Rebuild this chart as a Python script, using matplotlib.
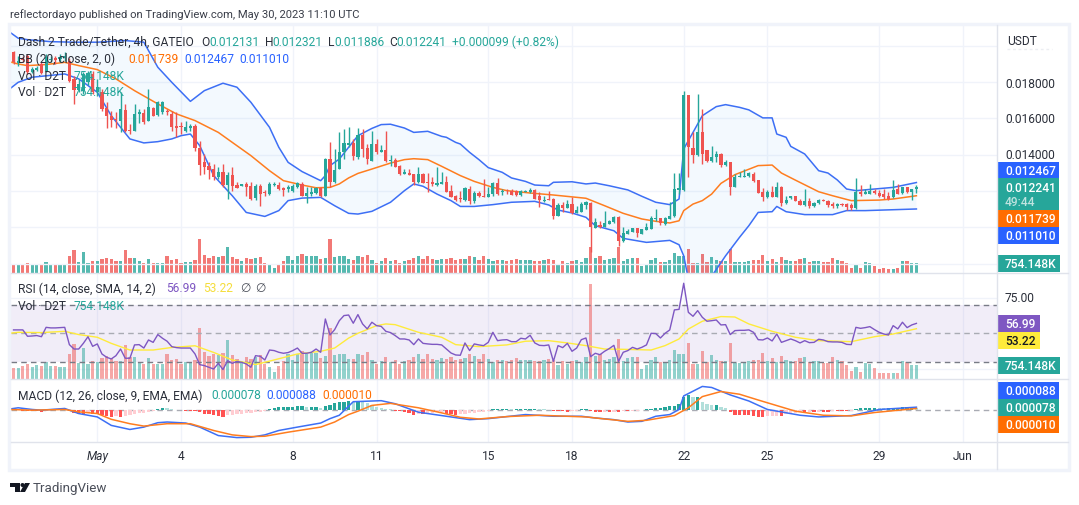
import numpy as np
import matplotlib
matplotlib.use("Agg")
import matplotlib.pyplot as plt
from matplotlib.patches import Rectangle, Polygon, Circle

plt.rcParams['font.family'] = ['Roboto', 'DejaVu Sans']

# ---- values are in thousandths of USDT for prices, thousands for volume
bar_index = np.arange(-18, 177)

opens = [19.65,19.07,19.32,19.46,18.58,18.67,19.00,18.63,19.22,19.32,19.28,19.32,19.19,18.18,17.59,17.53,17.99,18.45,
17.48,17.44,16.56,16.15,15.97,15.88,16.48,15.36,15.33,16.25,16.30,15.88,16.56,16.19,16.34,16.43,16.25,15.57,15.60,15.33,15.49,15.60,
14.35,13.58,13.40,13.21,12.79,13.07,12.35,12.88,12.33,12.26,12.39,12.26,11.60,12.26,11.93,11.83,12.35,12.35,12.15,12.11,12.02,12.20,
12.39,11.71,11.83,11.89,12.17,11.74,13.76,12.48,13.21,14.17,14.54,14.65,13.86,15.09,14.37,13.67,14.59,14.17,14.26,13.67,13.71,13.40,
12.94,12.97,12.92,12.48,12.94,12.50,12.51,12.33,12.40,12.51,12.00,11.74,11.60,11.49,12.11,11.45,11.89,11.74,11.69,11.83,12.44,11.96,
11.96,12.02,11.98,11.78,11.96,11.93,12.06,11.71,11.47,11.56,11.56,10.64,11.23,11.06,11.29,10.79,10.86,11.23,11.36,9.96,10.13,10.00,
10.18,10.27,10.58,9.22,9.65,9.76,9.96,9.63,9.87,9.90,10.46,10.51,10.18,10.46,10.60,12.07,12.07,17.29,14.37,14.00,15.23,14.26,13.67,
13.86,14.04,13.43,13.62,12.24,12.75,12.77,12.81,12.94,12.61,11.93,11.65,11.96,11.69,12.24,11.34,11.60,11.71,11.47,11.25,11.43,11.15,
11.32,11.50,11.47,11.28,11.19,11.28,11.27,11.23,11.04,11.96,11.85,11.85,12.02,11.89,11.83,11.74,11.65,12.11,11.87,12.20,11.96,12.131]
highs = [19.74,19.46,19.46,19.55,18.82,18.91,19.09,19.55,19.46,19.46,19.55,19.65,19.32,18.32,18.18,18.58,18.63,18.63,
18.18,17.62,16.89,16.43,16.34,17.44,16.80,15.69,16.80,16.52,16.52,17.62,16.61,16.98,16.98,16.52,16.43,16.34,15.79,15.88,15.69,15.69,
14.78,14.04,13.58,13.49,13.31,13.49,13.03,13.34,12.48,12.39,12.48,12.48,12.39,12.39,12.07,12.48,12.48,12.51,12.20,12.35,12.39,12.51,
12.48,12.20,12.20,12.20,12.20,13.80,14.68,14.32,15.23,15.42,15.55,14.87,15.45,15.42,14.59,15.33,14.87,14.54,15.33,13.99,13.80,13.43,
13.21,13.21,12.94,13.31,12.99,12.99,12.75,13.31,13.03,12.81,12.33,11.78,12.02,12.20,12.29,12.02,12.02,12.66,12.20,12.51,12.70,12.11,
12.11,12.11,12.07,12.07,12.07,12.15,12.11,11.93,11.71,11.98,11.60,11.34,11.38,11.52,11.65,11.19,11.38,11.47,11.41,10.54,10.36,10.88,
10.42,10.60,10.64,10.00,9.90,9.96,9.96,9.90,10.24,10.60,11.01,10.51,10.55,11.38,12.99,12.99,17.49,17.29,15.23,17.35,16.52,14.26,14.46,
14.22,14.08,13.69,13.62,12.94,13.07,13.21,13.03,13.07,12.61,12.15,12.07,12.29,12.48,12.29,11.71,11.74,11.74,11.56,12.11,11.60,11.41,
11.56,11.56,11.50,11.38,11.34,11.32,11.32,11.32,12.72,12.35,12.11,12.39,12.11,12.07,12.11,11.96,12.61,12.39,12.24,12.24,12.11,12.321]
lows = [19.00,18.91,19.09,18.45,18.51,18.63,18.45,18.58,19.09,19.00,19.09,19.19,18.03,16.80,17.44,17.35,17.84,17.35,
17.26,16.43,15.47,15.51,15.46,15.23,15.23,15.14,15.33,15.75,15.69,15.88,16.15,16.15,16.25,16.19,15.33,15.00,15.14,15.23,15.33,14.22,
12.90,12.94,12.66,12.61,12.66,12.20,11.56,12.02,12.17,12.26,11.74,11.52,11.52,11.19,11.74,11.78,12.29,12.07,11.71,11.96,11.93,12.15,
11.71,11.34,11.74,11.83,11.65,11.71,12.20,12.44,13.21,13.76,14.41,13.71,13.76,13.86,13.49,13.67,14.04,14.13,13.62,13.40,13.31,12.90,
12.94,12.88,12.33,12.44,12.44,11.96,12.26,12.26,12.39,11.93,11.65,11.47,11.41,11.45,11.27,11.34,11.65,11.65,11.65,11.74,11.78,11.80,
11.83,11.78,11.74,11.74,11.93,11.89,11.56,11.12,11.38,11.52,10.46,10.60,10.82,11.04,10.73,10.77,10.82,11.01,8.62,9.96,9.94,10.00,
10.16,10.24,8.99,9.17,9.63,9.72,9.48,9.63,9.85,9.90,10.36,10.15,10.15,10.46,10.55,11.83,12.02,12.79,13.54,13.91,13.49,13.62,13.58,
13.58,13.31,13.40,11.80,12.24,12.75,12.75,12.75,12.51,11.89,11.47,11.61,11.65,11.65,11.16,11.29,11.56,11.43,11.23,11.19,11.06,11.14,
11.27,11.43,11.10,11.04,11.06,11.19,10.97,10.93,11.01,11.71,11.83,11.83,11.83,11.65,11.56,11.52,11.61,11.83,11.83,11.89,11.50,11.886]
closes = [19.09,19.15,19.24,18.58,18.73,18.78,18.51,19.37,19.28,19.24,19.37,19.43,18.08,17.59,17.90,18.45,18.51,17.48,
17.72,16.52,16.12,15.93,15.91,16.52,15.33,15.29,16.25,16.34,15.82,16.61,16.15,16.89,16.93,16.34,15.51,15.47,15.53,15.51,15.60,14.35,
13.43,13.31,13.16,12.79,13.07,12.33,12.88,12.29,12.17,12.39,12.24,11.56,12.26,11.83,11.87,12.39,12.39,12.11,12.07,12.20,12.26,12.44,
11.74,11.89,11.96,12.15,11.71,13.76,12.48,13.18,14.17,14.65,14.63,13.91,15.09,14.32,13.76,14.59,14.17,14.26,13.67,13.71,13.34,12.94,
13.07,12.90,12.48,12.94,12.44,12.44,12.37,12.44,12.51,11.96,11.65,11.52,11.56,12.15,11.47,11.89,11.74,11.69,11.83,12.44,11.83,11.96,
11.93,11.80,11.78,12.02,12.02,12.06,11.56,11.52,11.52,11.52,10.60,11.23,11.04,11.29,10.77,10.95,11.29,11.41,10.01,10.27,10.00,10.24,
10.33,10.55,9.26,9.67,9.79,9.96,9.68,9.90,10.00,10.51,10.51,10.22,10.49,10.60,12.11,12.17,17.29,14.43,14.00,15.23,14.04,13.67,13.86,
14.04,13.43,13.62,12.24,12.79,12.85,12.85,12.97,12.57,11.89,11.65,11.96,11.65,12.24,11.34,11.52,11.71,11.47,11.25,11.47,11.15,11.34,
11.50,11.45,11.23,11.15,11.28,11.23,11.10,11.04,11.96,11.83,11.96,12.02,11.87,11.74,11.65,11.56,12.06,11.83,12.24,11.93,12.11,12.241]

volumes_k = [596,596,702,772,631,719,702,877,702,702,649,631,1333,1859,842,1649,807,947,
912,1123,1193,1123,947,947,1807,1158,1158,912,772,1087,807,807,772,1333,982,1070,772,877,877,982,
2701,1421,1193,1333,1245,1368,2035,1245,1070,947,1158,1070,1158,1245,807,631,351,702,947,1333,1017,1333,
1473,1333,1368,1368,1123,1193,2701,1245,1333,1333,1070,1052,1333,1245,1421,1017,772,947,1158,895,1017,772,
947,1017,1158,1298,1070,1298,1070,1017,1105,1070,1158,1017,1070,1123,1333,1228,1052,1333,1070,912,982,1017,
947,1017,1123,982,1017,982,947,947,982,1070,1017,719,930,772,947,982,877,1158,5016,1193,1333,1017,
1070,1158,2087,947,1123,1158,1158,544,719,1017,1158,877,877,1017,1544,1333,1298,1912,772,772,1491,877,1280,
982,947,947,1912,859,824,877,947,1017,1017,1386,930,1123,877,1228,1017,947,947,1123,1175,877,947,947,
859,824,1175,1017,947,754,403,649,368,842,807,561,298,333,298,316,333,947,912,754,754.148]
# the Vol overlay on the price pane shows this one bar shorter than the overlay on the RSI pane
main_pane_vol_k106 = 2025

bb_upper_k = [-19,-17,-15,-10,-5,0,6,10,13,16,20,23,27,30,33,37,39,41,44,48,49,50,52,54,56,59,61,63,66,68,71,74,75,77,78,80,82,84,87,89,92,94,97,98,102,105,107,110,114,117,120,123,125,126,128,130,133,135,138,140,143,145,146,148,149,152,155,157,159,161,163,167,171,176]
bb_upper = [20.79,20.42,20.34,20.23,20.20,20.20,20.29,20.20,18.82,17.99,16.94,17.53,17.94,17.72,16.89,15.51,14.41,13.58,13.07,12.57,12.85,13.40,13.76,14.41,15.05,15.45,15.66,15.68,15.47,15.23,15.29,15.01,14.96,14.68,14.59,14.13,13.73,13.29,13.03,12.72,12.53,12.33,12.29,12.48,12.51,12.39,12.44,12.29,12.06,11.71,11.38,11.25,11.56,14.32,15.23,16.15,16.65,16.76,16.61,16.47,16.03,16.03,15.14,14.96,14.46,14.04,13.12,12.99,12.61,12.11,12.02,12.11,12.20,12.467]
bb_mid_k = [-19,-17,-15,-11,-7,-4,0,4,8,13,17,21,26,29,33,37,40,44,47,50,52,54,56,59,63,66,68,71,74,78,81,85,88,93,98,105,109,113,117,120,123,125,126,128,130,132,134,137,142,145,147,150,155,158,162,168,171,176]
bb_mid = [19.13,19.00,18.91,18.97,19.09,18.91,18.69,18.18,17.53,16.80,16.25,15.88,15.23,14.68,13.95,13.12,12.57,12.33,12.18,12.20,12.39,12.72,12.97,13.21,13.54,13.73,13.78,13.73,13.36,12.85,12.53,12.20,12.02,11.89,11.78,11.60,11.19,10.77,10.46,10.33,10.24,10.36,10.92,11.28,11.47,11.83,12.42,12.90,13.40,13.43,12.99,12.60,11.96,11.74,11.47,11.50,11.56,11.739]
bb_lower_k = [-19,-17,-14,-7,-4,0,3,7,10,13,16,18,20,22,25,29,32,36,39,41,44,48,51,54,56,59,63,66,68,70,73,76,78,81,85,89,94,97,99,102,105,107,111,113,118,123,125,126,127,129,132,135,138,140,142,145,146,148,152,158,161,165,176]
bb_lower = [17.59,17.99,18.27,18.45,18.18,17.44,16.15,14.87,14.65,14.72,14.87,15.05,15.14,14.50,12.85,11.74,10.82,10.60,10.92,11.47,11.61,11.65,11.19,10.77,10.73,10.88,11.38,12.02,12.39,12.26,11.83,11.47,11.15,11.15,11.25,11.38,11.43,11.23,10.95,10.79,10.55,10.09,9.81,9.39,9.17,9.28,9.04,8.43,7.15,5.00,7.30,8.43,9.45,10.09,10.82,10.86,11.15,10.86,10.70,10.70,10.92,10.92,11.010]

rsi = [52.4,52.4,52.4,47.9,48.1,48.4,47.6,54.2,53.8,53.8,54,54.2,42,38.9,38.9,42.9,47.6,40.8,
42.5,35.4,33.1,31.9,34.2,38.9,32.4,32.4,41.8,42,39.6,45.3,43.6,49.1,46.5,44.4,40.6,39.9,39.6,39.6,39.6,35.4,
27.9,27.2,26,24.8,28.8,24.4,30.7,28.8,30.2,29.5,28.4,26,34.2,33.8,31.2,38.2,37.8,36.6,35.9,36.4,37.8,39.6,
35.9,35.9,36.6,38.9,36.6,60.1,48.8,52.6,58.9,62.5,62.9,57.1,63.2,56.6,53.1,57.8,55.4,54.9,51.4,50.5,48.4,46,
46,45.3,42,46,42.9,42.5,42.2,42.2,41.8,38.9,36.1,34.7,34.5,43.2,37.8,42.5,41.8,41.3,43.6,50.7,44.8,45.3,
45.5,44.1,44.1,46.5,46,48.6,43.2,41.5,41.3,41.8,30.2,41.3,39.9,42.9,37.3,39.6,45.5,46.7,33.5,35.9,34.9,37.3,
39.2,41.5,30.2,36.6,37.8,40.1,38.9,40.1,41.8,50,49.8,46.7,50,52.4,66.5,66.9,85.3,64.8,62,66,61.3,58.5,58.9,
59.4,55.9,56.1,49.1,51.9,52.1,52.1,52.4,50.7,45.5,45.3,46.7,44.6,49.5,43.6,44.8,46,44.8,43.2,44.8,43.4,
43.6,45.8,45.3,44.1,43.9,43.9,43.6,42.2,42,54.2,53.5,54,54.7,52.6,50.7,49.5,48.8,55.4,53.1,57.8,54,55.9,56.99]
rsi_ma_k = [-19,-17,-12,-7,-4,0,3,7,12,16,21,25,29,34,38,43,48,51,54,56,60,62,64,69,74,77,82,88,92,97,101,105,109,113,119,122,125,127,130,134,137,140,145,150,155,162,167,171,176]
rsi_ma = [50,50.7,50.5,51.4,49.1,47.2,42.9,38.2,38.2,40,41.2,36.5,31.2,27.9,31.2,35.4,37.3,39.6,46.6,50,55.4,56.6,56.1,50.7,47.2,42,40.6,41.8,44.4,44.8,43.2,41.3,38.9,38.7,38.2,41.3,46,53,58.5,61.8,61.5,56.6,51.4,47.2,44.8,44.1,47.6,49.5,53.22]

# MACD values in units of 1e-5
macd_hist = [1,1,-1,-3,-3,-3,-4,-1,1,1,1,2,-3,-8,-10,-10,-8,-10,
-11,-14,-18,-19,-18,-20,-18,-14,-10,-9,-8,-5,-1,3,6,5,2,1,1,-1,-1,-2,
-5,-10,-12,-14,-18,-20,-15,-13,-12,-11,-9,-7,-6,-4,-1,3,6,8,9,9,10,11,
11,8,8,8,7,13,16,20,23,25,28,25,28,25,20,14,10,6,3,2,-2,-3,
-4,-8,-13,-10,-11,-10,-7,-5,-4,-10,-12,-13,-12,-10,-8,-7,-5,-4,-3,4,4,4,
4,3,3,3,4,4,4,3,2,1,-3,-3,-3,-4,-3,-2,2,2,-3,-5,-6,-5,
-5,-4,-4,-3,-3,-2,-1,1,2,4,5,7,8,11,13,17,40,44,39,39,25,19,14,
14,10,5,-5,-13,-13,-13,-15,-18,-19,-19,-18,-17,-16,-18,-10,-8,-7,-6,-6,-5,
-5,-4,-4,-4,-3,-3,-3,-3,-2,2,6,7,7,7,6,5,5,6,7,8,8,8,7.8]
macd_k = [-19,-17,-14,-12,-7,-4,0,3,7,10,13,15,19,22,26,30,33,36,39,43,48,50,52,55,61,64,69,75,80,84,92,98,104,107,111,114,117,120,123,125,126,130,132,136,140,144,151,155,162,168,176]
macd_line = [3,7,2,0,5,-10,-20,-45,-57,-50,-37,-35,-38,-50,-75,-81,-80,-73,-60,-50,-38,-25,-15,25,28,19,-6,-18,-28,-25,-13,-18,-18,-23,-28,-35,-33,-18,-13,2,42,70,67,45,27,2,-15,-20,-16,2,8.8]
signal_k = [-19,-14,-7,-4,0,3,7,10,15,20,25,29,33,36,41,48,51,54,56,59,63,69,74,78,82,88,95,101,105,109,114,118,124,127,130,134,138,142,150,156,162,167,176]
signal_line = [2,0,2,-5,-10,-27,-40,-47,-40,-40,-60,-73,-78,-77,-65,-50,-35,-13,-3,14,20,7,-8,-21,-26,-19,-15,-18,-20,-26,-33,-30,-16,7,40,55,47,30,-3,-15,-17,-7,5]

day_tick_k = [0,18,42,60,84,102,126,144,168,186]
day_tick_labels = ['May','4','8','11','15','18','22','25','29','Jun']
price_grid = [8,10,12,14,16,18,20]
price_labels = ['0.018000','0.016000','0.014000']

UP, DOWN = '#26a69a', '#ef5350'
INK = '#2a2e39'
GRID = '#f0f3fa'
W, H = 1079, 506

fig = plt.figure(figsize=(W/100, H/100), dpi=100, facecolor='white')

def pane(x0, y0, x1, y1, z=1):
    return fig.add_axes([x0/W, 1-y1/H, (x1-x0)/W, (y1-y0)/H], zorder=z)

PL, PR = 11, 997
xlim = ((PL-97.3)/4.654, (PR-97.3)/4.654)

o, h, l, c = [np.array(a)/1000 for a in (opens, highs, lows, closes)]
up = c >= o
colors = np.where(up, UP, DOWN)
vol = np.array(volumes_k, float)
vol_main = vol.copy()
vol_main[list(bar_index).index(106)] = main_pane_vol_k106

# ---------- price pane
ax = pane(PL, 26.5, PR, 273.5, 2)
ax.set_xlim(xlim); ax.set_ylim(0.00751, 0.02112)
ax.set_facecolor('none')
axv = pane(PL, 26.5, PR, 273.5, 1)
axv.set_xlim(xlim); axv.set_ylim(0, 20000)
axv.set_facecolor('white')
for k in day_tick_k:
    axv.axvline(k, color=GRID, lw=1, zorder=0)
for g in price_grid:
    ax.axhline(g/1000, color=GRID, lw=1, zorder=0)
axv.bar(bar_index, vol_main, width=0.7, color=colors, alpha=0.78, lw=0, zorder=2)

xu, yu = np.array(bb_upper_k, float), np.array(bb_upper)/1000
xm, ym = np.array(bb_mid_k, float), np.array(bb_mid)/1000
xd, yd = np.array(bb_lower_k, float), np.array(bb_lower)/1000
ax.fill(np.r_[xu, xd[::-1]], np.r_[yu, yd[::-1]], color='#2196f3', alpha=0.05, lw=0, zorder=1)
ax.plot(xu, yu, color='#3d6ff5', lw=1.1, zorder=3)
ax.plot(xd, yd, color='#3d6ff5', lw=1.1, zorder=3)
ax.plot(xm, ym, color='#ff7d1f', lw=1.1, zorder=3)
ax.vlines(bar_index, l, h, colors=colors, lw=1, zorder=4)
ax.bar(bar_index, np.maximum(np.abs(c-o), 0.00004), bottom=np.minimum(o, c), width=0.68,
       color=colors, lw=0, zorder=5)

# ---------- RSI pane
ar = pane(PL, 273.5, PR, 380, 1)
ar.set_xlim(xlim); ar.set_ylim(17.75, 92.9)
for k in day_tick_k:
    ar.axvline(k, color=GRID, lw=1, zorder=0)
for g in (25, 75):
    ar.axhline(g, color=GRID, lw=1, zorder=0)
ar.axhspan(30, 70, color='#7e57c2', alpha=0.1, lw=0, zorder=1)
arv = ar.twinx()
arv.set_ylim(0, 5600)
arv.bar(bar_index, vol, width=0.7, color=colors, alpha=0.5, lw=0, zorder=2)
arv.set_zorder(ar.get_zorder()+1); arv.patch.set_visible(False)
ar2 = pane(PL, 273.5, PR, 380, 3)
ar2.set_xlim(xlim); ar2.set_ylim(17.75, 92.9); ar2.patch.set_visible(False)
for g, col in ((70, '#787b86'), (30, '#787b86'), (50, '#a9abb3')):
    ar2.axhline(g, color=col, lw=1, dashes=(4, 3), zorder=2)
ar2.plot(bar_index, rsi, color='#7e57c2', lw=1, zorder=4)
ar2.plot(rsi_ma_k, rsi_ma, color='#ffeb3b', lw=1, zorder=3)

# ---------- MACD pane
am = pane(PL, 380, PR, 443, 1)
am.set_xlim(xlim); am.set_ylim(-94e-5, 92e-5)
for k in day_tick_k:
    am.axvline(k, color=GRID, lw=1, zorder=0)
am.axhline(0, color='#a9abb3', lw=1, dashes=(4, 3), zorder=1)
hv = np.array(macd_hist, float)
prev = np.r_[hv[0], hv[:-1]]
hc = []
for v, p in zip(hv, prev):
    if v >= 0:
        hc.append('#26a69a' if v >= p else '#b2dfdb')
    else:
        hc.append('#ff5252' if v <= p else '#ffcdd2')
am.bar(bar_index, hv*1e-5, width=0.7, color=hc, lw=0, zorder=2)
am.plot(macd_k, np.array(macd_line)*1e-5, color='#3d6ff5', lw=1.1, zorder=3)
am.plot(signal_k, np.array(signal_line)*1e-5, color='#ff7d1f', lw=1.1, zorder=4)

for a in (ax, axv, ar, arv, ar2, am):
    a.set_xticks([]); a.set_yticks([])
    for s in a.spines.values():
        s.set_visible(False)

# ---------- overlay in pixel units: frame, labels, legends
px = fig.add_axes([0, 0, 1, 1], zorder=10)
px.set_xlim(0, W); px.set_ylim(H, 0); px.axis('off'); px.patch.set_visible(False)

FRAME = '#f0f3fa'
px.add_patch(Rectangle((9, 25), 1060, 446, fill=False, ec=FRAME, lw=2.5))
for y in (273.5, 380, 443):
    px.plot([11, 1068], [y, y], color='#e0e3eb', lw=1)
px.plot([997, 997], [26, 470], color='#e0e3eb', lw=1)
px.plot([1007, 1052], [50, 50], color='#eceef2', lw=1, ls=(0, (2, 2)))

def T(x, y, s, color=INK, size=8.65, ha='left', **kw):
    px.text(x, y, s, color=color, fontsize=size, ha=ha, va='center', **kw)

T(10, 15, 'reflectordayo published on TradingView.com, May 30, 2023 11:10 UTC', '#3a3e49', size=8.1)
T(18, 42, 'Dash 2 Trade/Tether, 4h, GATEIO')
T(201, 42, 'O'); T(209, 42, '0.012131', UP)
T(265, 42, 'H'); T(272, 42, '0.012321', UP)
T(328, 42, 'L'); T(334, 42, '0.011886', UP)
T(389, 42, 'C'); T(396, 42, '0.012241', UP)
T(452, 42, '+0.000099 (+0.82%)', UP)
T(18, 59, 'BB (20, close, 2, 0)')
T(128, 59, '0.011739', '#ff6d00'); T(184, 59, '0.012467', '#2962ff'); T(239, 59, '0.011010', '#2962ff')
for y in (76, 92):
    T(18, y, 'Vol · D2T'); T(74, y, '754.148K', UP)
T(18, 289, 'RSI (14, close, SMA, 14, 2)')
T(166, 289, '56.99', '#7e57c2'); T(203, 289, '53.22', '#f5dd3b')
T(240, 289, '∅', '#4a4e59'); T(255, 289, '∅', '#4a4e59')
T(18, 306, 'Vol · D2T'); T(74, 306, '754.148K', UP)
T(18, 396, 'MACD (12, 26, close, 9, EMA, EMA)')
T(211, 396, '0.000078', UP); T(266, 396, '0.000088', '#2962ff'); T(322, 396, '0.000010', '#ff6d00')

T(1007, 41, 'USDT')
for lab, y in zip(price_labels, (84, 119.5, 155.5)):
    T(1005, y, lab)
T(1005, 298, '75.00')

def tag(y0, y1, x1, col, s, tc='white', s2=None):
    px.add_patch(Rectangle((997, y0), x1-997, y1-y0, fc=col, ec='none'))
    if s2 is None:
        T(1005, (y0+y1)/2, s, tc, weight='medium')
    else:
        T(1005, y0+9, s, tc, weight='medium')
        T(1005, y0+23, s2, '#bfe3df', weight='medium')

tag(163, 179, 1059, '#2962ff', '0.012467')
tag(179, 211, 1059, UP, '0.012241', s2='49:44')
tag(211, 228, 1059, '#ff6d00', '0.011739')
tag(228, 245, 1059, '#2962ff', '0.011010')
tag(256, 273, 1060, UP, '754.148K')
tag(316, 333, 1040, '#7e57c2', '56.99')
tag(333, 350, 1040, '#ffeb3b', '53.22', tc='#131722')
tag(358, 375, 1060, UP, '754.148K')
tag(383, 400, 1059, '#2962ff', '0.000088')
tag(400, 417, 1059, UP, '0.000078')
tag(417, 434, 1059, '#ff6d00', '0.000010')

for k, lab in zip(day_tick_k, day_tick_labels):
    T(97.3+4.654*k, 457, lab, ha='center', style='italic' if lab == 'May' else 'normal')

# logo and brand
px.add_patch(Polygon([(10, 484), (20, 484), (20, 493), (15, 493), (15, 488), (10, 488)], fc='#131722', ec='none'))
px.add_patch(Circle((22.5, 486), 2, fc='#131722', ec='none'))
px.add_patch(Polygon([(25, 484), (30, 484), (25, 493), (20, 493)], fc='#131722', ec='none'))
T(33, 489, 'TradingView', '#4a4e59', size=9.6)

fig.savefig('out.png', dpi=100)
